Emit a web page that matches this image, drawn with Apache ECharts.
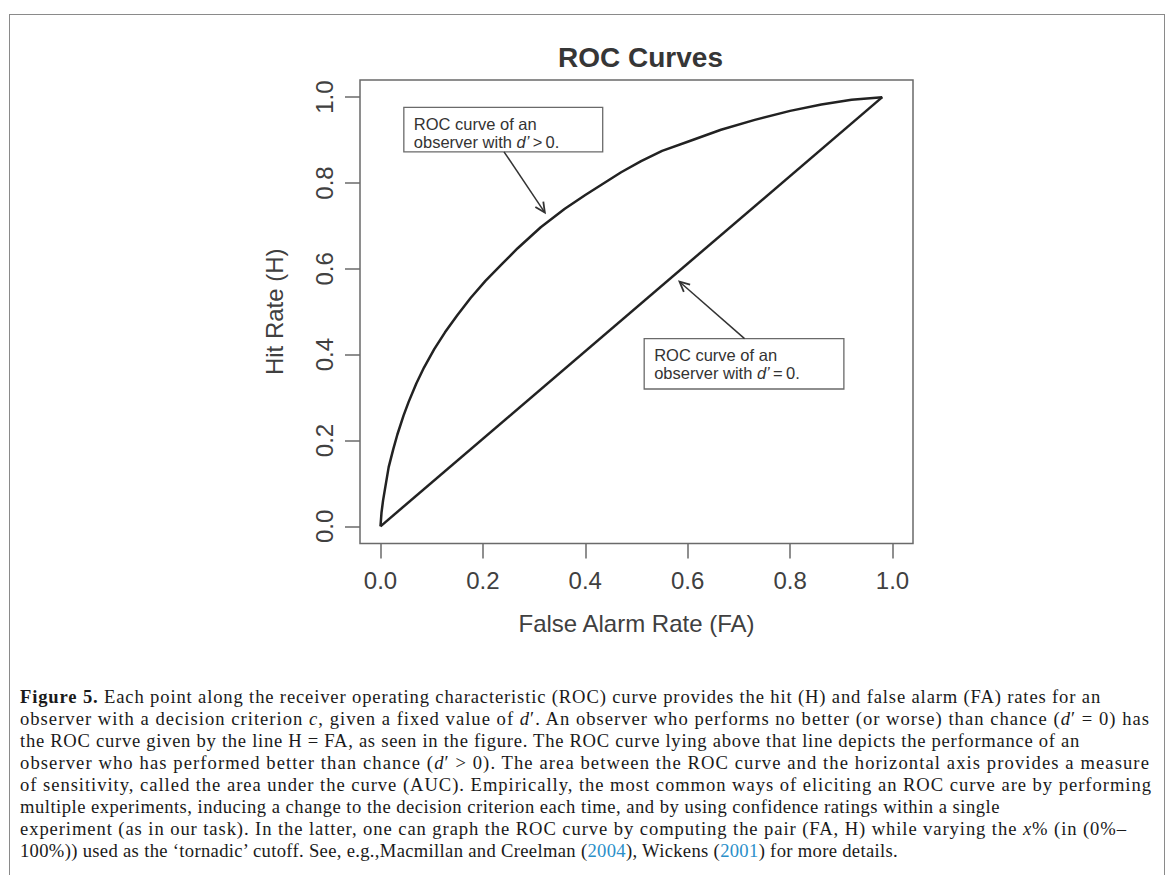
<!DOCTYPE html>
<html><head><meta charset="utf-8">
<script src="https://cdn.jsdelivr.net/npm/echarts@6/dist/echarts.min.js"></script>
<style>
html,body{margin:0;padding:0;background:#fff;width:1173px;height:875px;overflow:hidden;}
#frame{position:absolute;left:9px;top:14px;width:1156px;height:900px;border:1.5px solid #8a8a8a;box-sizing:border-box;}
#chart{position:absolute;left:0;top:0;width:1173px;height:670px;}
#caption{position:absolute;left:20px;top:686px;font-family:"Liberation Serif","DejaVu Serif",serif;color:#1a1a1a;font-size:18.6px;}
#caption div{white-space:nowrap;height:22px;line-height:22px;}
#caption div span.t{display:inline-block;}
#caption .c{color:#2b8fc9;}
</style></head>
<body>
<div id="frame"></div>
<div id="chart"></div>
<div id="caption">
<div><span class="t"><b>Figure 5.</b> Each point along the receiver operating characteristic (ROC) curve provides the hit (H) and false alarm (FA) rates for an</span></div>
<div><span class="t">observer with a decision criterion <i>c</i>, given a fixed value of <i>d</i>′. An observer who performs no better (or worse) than chance (<i>d</i>′ = 0) has</span></div>
<div><span class="t">the ROC curve given by the line H = FA, as seen in the figure. The ROC curve lying above that line depicts the performance of an</span></div>
<div><span class="t">observer who has performed better than chance (<i>d</i>′ &gt; 0). The area between the ROC curve and the horizontal axis provides a measure</span></div>
<div><span class="t">of sensitivity, called the area under the curve (AUC). Empirically, the most common ways of eliciting an ROC curve are by performing</span></div>
<div><span class="t">multiple experiments, inducing a change to the decision criterion each time, and by using confidence ratings within a single</span></div>
<div><span class="t">experiment (as in our task). In the latter, one can graph the ROC curve by computing the pair (FA, H) while varying the <i>x</i>% (in (0%–</span></div>
<div><span class="t">100%)) used as the ‘tornadic’ cutoff. See, e.g.,Macmillan and Creelman (<span class="c">2004</span>), Wickens (<span class="c">2001</span>) for more details.</span></div>
</div>
<script>
// ---- data ----
const upperFA = [0, 0.002, 0.005, 0.0085, 0.016, 0.025, 0.033, 0.045, 0.055, 0.07, 0.085, 0.105, 0.126, 0.15, 0.176, 0.205, 0.238, 0.268, 0.313, 0.36, 0.40, 0.47, 0.509, 0.55, 0.60, 0.665, 0.731, 0.80, 0.861, 0.92, 0.98];
const upperH  = [0, 0.032, 0.06, 0.085, 0.138, 0.18, 0.214, 0.258, 0.29, 0.333, 0.37, 0.413, 0.452, 0.492, 0.532, 0.572, 0.612, 0.648, 0.697, 0.74, 0.772, 0.825, 0.851, 0.875, 0.896, 0.924, 0.947, 0.968, 0.983, 0.994, 1.0];
const diagFA = [0, 0.98];
const diagH  = [0, 1.0];
const xTicks = [0, 0.2, 0.4, 0.6, 0.8, 1.0];
const yTicks = [0, 0.2, 0.4, 0.6, 0.8, 1.0];
const titleText = 'ROC Curves';
const xName = 'False Alarm Rate (FA)';
const yName = 'Hit Rate (H)';
const note1 = ['ROC curve of an', 'observer with {i|d’}\u2009>\u20090.'];
const note2 = ['ROC curve of an', 'observer with {i|d’}\u2009=\u20090.'];

// caption line fitting (right ends of each line in the reference)
const captionRight = [1101, 1150, 1080, 1150, 1152, 1000, 1127, 898];
(function(){
  const spans = document.querySelectorAll('#caption span.t');
  spans.forEach((s, i) => {
    const w = s.getBoundingClientRect().width;
    const n = s.textContent.length;
    const target = captionRight[i] - 20;
    s.style.letterSpacing = ((target - w) / n).toFixed(3) + 'px';
  });
})();

const FONT = '"Liberation Sans", Arial, sans-serif';
const AX = '#6a6a6a', TXT = '#404040', LINE = '#222';
const chart = echarts.init(document.getElementById('chart'), null, {renderer: 'svg'});
const fmt = v => Number(v).toFixed(1);
chart.setOption({
  animation: false,
  title: {text: titleText, left: 635.5, top: 38, textAlign: 'center',
    textStyle: {fontFamily: FONT, fontSize: 28, fontWeight: 'bold', color: '#363636'}},
  grid: {left: 360, top: 80, width: 553, height: 463.5, show: true, borderColor: AX, borderWidth: 1.5},
  xAxis: {type: 'value', min: -0.04, max: 1.04,
    name: xName, nameLocation: 'middle', nameGap: 68,
    nameTextStyle: {fontFamily: FONT, fontSize: 24, color: TXT},
    axisLine: {show: false, onZero: false}, splitLine: {show: false},
    axisTick: {show: true, customValues: xTicks, length: 15, lineStyle: {color: AX, width: 1.5}},
    axisLabel: {customValues: xTicks, formatter: fmt, fontFamily: FONT, fontSize: 24, color: TXT, margin: 25}},
  yAxis: {type: 'value', min: -0.04, max: 1.04,
    name: yName, nameLocation: 'middle', nameGap: 74,
    nameTextStyle: {fontFamily: FONT, fontSize: 24, color: TXT},
    axisLine: {show: false, onZero: false}, splitLine: {show: false},
    axisTick: {show: true, customValues: yTicks, length: 15, lineStyle: {color: AX, width: 1.5}},
    axisLabel: {customValues: yTicks, formatter: fmt, rotate: 90, fontFamily: FONT, fontSize: 24, color: TXT, margin: 24}},
  series: [
    {type: 'line', name: 'd\u2032 > 0', data: upperFA.map((x, i) => [x, upperH[i]]), symbol: 'none',
     smooth: false, lineStyle: {color: LINE, width: 2.5, join: 'round'}},
    {type: 'line', name: 'd\u2032 = 0', data: diagFA.map((x, i) => [x, diagH[i]]), symbol: 'none',
     lineStyle: {color: LINE, width: 2.5}}
  ]
});

// annotations placed in data coordinates
const notes = [
  {lines: note1, box: [0.0456, 0.976, 0.434, 0.8727], from: [0.2413, 0.8727], to: [0.321, 0.731]},
  {lines: note2, box: [0.515, 0.4375, 0.905, 0.320], from: [0.711, 0.4375], to: [0.584, 0.570]}
];
const px = p => chart.convertToPixel({gridIndex: 0}, p);
const graphics = [];
notes.forEach(n => {
  const a = px([n.box[0], n.box[1]]), b = px([n.box[2], n.box[3]]);
  graphics.push({type: 'rect', shape: {x: a[0], y: a[1], width: b[0] - a[0], height: b[1] - a[1]},
    style: {fill: '#fff', stroke: AX, lineWidth: 1.3}, z: 10});
  graphics.push({type: 'text', x: a[0] + 10, y: a[1] + 7, z: 11,
    style: {text: n.lines.join('\n'), fontFamily: FONT, fontSize: 16.5, lineHeight: 18.5, fill: '#333',
      rich: {i: {fontStyle: 'italic', fontFamily: FONT, fontSize: 16.5, lineHeight: 18.5, fill: '#333'}}}});
  const f = px(n.from), t = px(n.to);
  graphics.push({type: 'line', shape: {x1: f[0], y1: f[1], x2: t[0], y2: t[1]}, style: {stroke: '#333', lineWidth: 1.5}, z: 10});
  const ang = Math.atan2(t[1] - f[1], t[0] - f[0]), L = 11, da = 0.45;
  graphics.push({type: 'polyline', shape: {points: [
      [t[0] - L * Math.cos(ang - da), t[1] - L * Math.sin(ang - da)], t,
      [t[0] - L * Math.cos(ang + da), t[1] - L * Math.sin(ang + da)]]},
    style: {stroke: '#333', lineWidth: 1.8, fill: null}, z: 10});
});
chart.setOption({graphic: graphics});
</script>
</body></html>
